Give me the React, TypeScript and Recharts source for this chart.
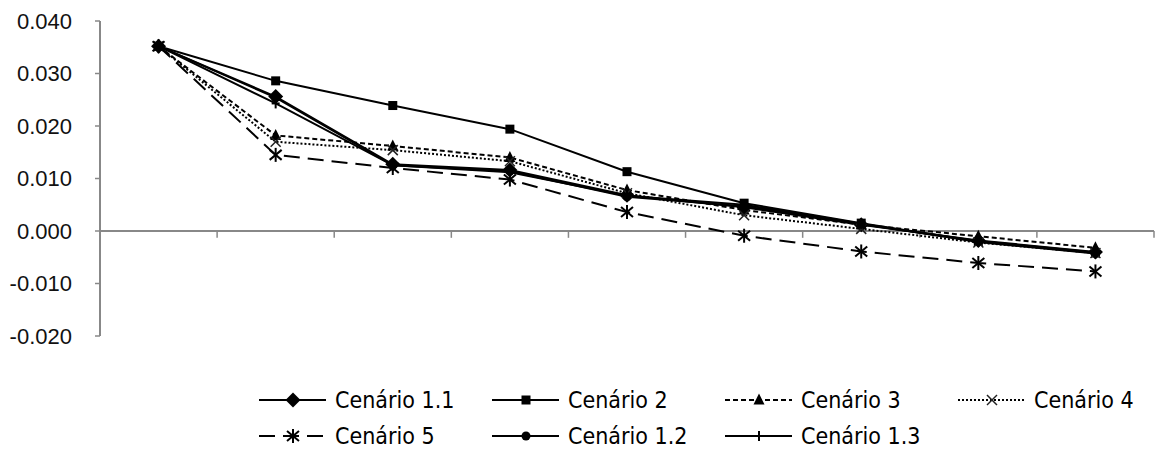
import { LineChart, Line, XAxis, YAxis, ReferenceLine, Legend } from 'recharts'

const periods = [1, 2, 3, 4, 5, 6, 7, 8, 9]
const yTicks = [-0.02, -0.01, 0, 0.01, 0.02, 0.03, 0.04]

const cenario11 = [0.0352, 0.0256, 0.0127, 0.0116, 0.0068, 0.0045, 0.0012, -0.0018, -0.004]
const cenario2 = [0.0352, 0.0286, 0.0239, 0.0194, 0.0113, 0.0053, 0.0015, -0.002, -0.0042]
const cenario3 = [0.0352, 0.0182, 0.0162, 0.014, 0.0078, 0.004, 0.0012, -0.001, -0.0032]
const cenario4 = [0.0352, 0.017, 0.0154, 0.0133, 0.0072, 0.003, 0.0004, -0.0022, -0.0042]
const cenario5 = [0.0352, 0.0145, 0.012, 0.0098, 0.0036, -0.0009, -0.0039, -0.0061, -0.0077]
const cenario12 = [0.0352, 0.0254, 0.0125, 0.0114, 0.0065, 0.0047, 0.0013, -0.0019, -0.0041]
const cenario13 = [0.0352, 0.0243, 0.0125, 0.0112, 0.0067, 0.005, 0.0014, -0.0021, -0.0043]

const data = periods.map((p, i) => ({
  period: p,
  pos: i + 0.5,
  c11: cenario11[i],
  c2: cenario2[i],
  c3: cenario3[i],
  c4: cenario4[i],
  c5: cenario5[i],
  c12: cenario12[i],
  c13: cenario13[i],
}))

type Shape = 'diamond' | 'square' | 'triangle' | 'x' | 'star' | 'circle' | 'plus'

const series: { key: string; name: string; dash?: string; shape: Shape }[] = [
  { key: 'c11', name: 'Cenário 1.1', shape: 'diamond' },
  { key: 'c2', name: 'Cenário 2', shape: 'square' },
  { key: 'c3', name: 'Cenário 3', dash: '5 3', shape: 'triangle' },
  { key: 'c4', name: 'Cenário 4', dash: '2 2', shape: 'x' },
  { key: 'c5', name: 'Cenário 5', dash: '16 8', shape: 'star' },
  { key: 'c12', name: 'Cenário 1.2', shape: 'circle' },
  { key: 'c13', name: 'Cenário 1.3', shape: 'plus' },
]

// legend order as in the picture (4 columns, 2 rows)
const legendOrder = ['c11', 'c2', 'c3', 'c4', 'c5', 'c12', 'c13']

function Marker({ shape, cx, cy }: { shape: Shape; cx: number; cy: number }) {
  if (cx == null || cy == null) return null
  switch (shape) {
    case 'diamond':
      return <path d={`M${cx} ${cy - 7.5}L${cx + 7.5} ${cy}L${cx} ${cy + 7.5}L${cx - 7.5} ${cy}Z`} fill="#000" />
    case 'square':
      return <rect x={cx - 4.5} y={cy - 4.5} width={9} height={9} fill="#000" />
    case 'triangle':
      return <path d={`M${cx} ${cy - 6.5}L${cx + 5.5} ${cy + 4.5}L${cx - 5.5} ${cy + 4.5}Z`} fill="#000" />
    case 'x':
      return (
        <g stroke="#222" strokeWidth={1.5}>
          <line x1={cx - 5} y1={cy - 5} x2={cx + 5} y2={cy + 5} />
          <line x1={cx - 5} y1={cy + 5} x2={cx + 5} y2={cy - 5} />
        </g>
      )
    case 'star':
      return (
        <g stroke="#000" strokeWidth={2}>
          <line x1={cx - 6} y1={cy - 5} x2={cx + 6} y2={cy + 5} />
          <line x1={cx - 6} y1={cy + 5} x2={cx + 6} y2={cy - 5} />
          <line x1={cx} y1={cy - 7} x2={cx} y2={cy + 7} />
        </g>
      )
    case 'circle':
      return <circle cx={cx} cy={cy} r={4.5} fill="#000" />
    case 'plus':
      return (
        <g stroke="#000" strokeWidth={2}>
          <line x1={cx} y1={cy - 5} x2={cx} y2={cy + 5} />
          <line x1={cx - 4} y1={cy} x2={cx + 4} y2={cy} />
        </g>
      )
  }
  return null
}

function ChartLegend() {
  const items = legendOrder.map((k) => series.find((s) => s.key === k)!)
  return (
    <div
      style={{
        display: 'grid',
        gridTemplateColumns: 'repeat(4, 233px)',
        rowGap: 6,
        paddingLeft: 259,
        fontFamily: "'Liberation Sans Narrow', 'DejaVu Sans Condensed', sans-serif",
        fontSize: 23,
        color: '#000',
      }}
    >
      {items.map((s) => (
        <div key={s.key} style={{ display: 'flex', alignItems: 'center', height: 30 }}>
          <svg width={67} height={20} style={{ flex: 'none' }}>
            <line x1={0} y1={10} x2={67} y2={10} stroke="#000" strokeWidth={2} strokeDasharray={s.dash} />
            <Marker shape={s.shape} cx={34} cy={10} />
          </svg>
          <span style={{ marginLeft: 9, whiteSpace: 'nowrap' }}>{s.name}</span>
        </div>
      ))}
    </div>
  )
}

export default function App() {
  return (
    <div style={{ position: 'absolute', left: 0, top: 0, background: '#fff' }}>
      <LineChart width={1155} height={457} data={data} margin={{ top: 21, right: 1, bottom: 121, left: 0 }}>
        <XAxis type="number" dataKey="pos" domain={[0, 9]} hide />
        <YAxis
          type="number"
          domain={[-0.02, 0.04]}
          ticks={yTicks}
          width={100}
          tickSize={5}
          tickMargin={23}
          tickFormatter={(v: number) => v.toFixed(3)}
          axisLine={{ stroke: '#888', strokeWidth: 2 }}
          tickLine={{ stroke: '#888', strokeWidth: 1.5 }}
          tick={{ fill: '#111', fontSize: 22, fontFamily: "'Liberation Sans', Arial, sans-serif" }}
        />
        <ReferenceLine y={0} stroke="#888" strokeWidth={2} />
        {periods.map((p, i) => (
          <ReferenceLine
            key={`tick-${p}`}
            segment={[
              { x: i + 1, y: 0 },
              { x: i + 1, y: -0.0013 },
            ]}
            stroke="#888"
            strokeWidth={1.5}
          />
        ))}
        {series.map((s) => (
          <Line
            key={s.key}
            dataKey={s.key}
            name={s.name}
            stroke="#000"
            strokeWidth={2}
            strokeDasharray={s.dash}
            isAnimationActive={false}
            dot={(props: any) => (
              <Marker key={`${s.key}-${props.index}`} shape={s.shape} cx={props.cx} cy={props.cy} />
            )}
            activeDot={false}
          />
        ))}
        <Legend
          verticalAlign="middle"
          align="center"
          layout="horizontal"
          content={() => <ChartLegend />}
          wrapperStyle={{ top: 385, left: 0, width: 1155 }}
        />
      </LineChart>
    </div>
  )
}
